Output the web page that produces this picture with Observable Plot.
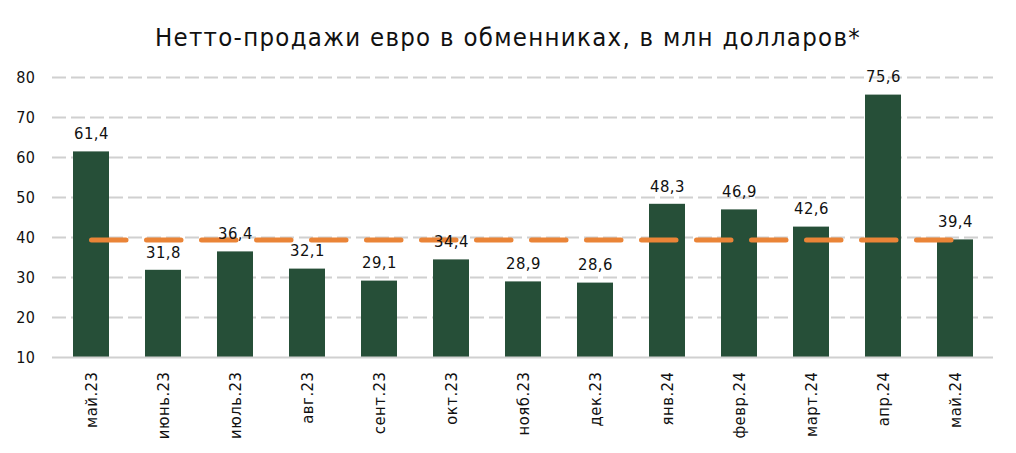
<!DOCTYPE html>
<html><head><meta charset="utf-8">
<script src="https://cdn.jsdelivr.net/npm/d3@7"></script>
<script src="https://cdn.jsdelivr.net/npm/@observablehq/plot@0.6"></script>
<style>
body{margin:0;background:#fff;}
#title{box-sizing:border-box;height:62px;padding-top:22px;line-height:30px;text-align:center;font-family:"DejaVu Sans Condensed","DejaVu Sans",sans-serif;font-size:25.5px;letter-spacing:1.3px;color:#111;}
</style></head><body>
<div id="title">Нетто-продажи евро в обменниках, в млн долларов*</div>
<div id="chart"></div>
<script>
const months = ["май.23","июнь.23","июль.23","авг.23","сент.23","окт.23","нояб.23","дек.23","янв.24","февр.24","март.24","апр.24","май.24"];
const values = [61.4,31.8,36.4,32.1,29.1,34.4,28.9,28.6,48.3,46.9,42.6,75.6,39.4];
const referenceLevel = 39.4;
const yTicks = [10,20,30,40,50,60,70,80];

const data = months.map((m,i)=>({month:m, value:values[i]}));
const refLine = months.map(m=>({month:m, value:referenceLevel}));
const fmt = v => v.toFixed(1).replace(".", ",");
const font = "'DejaVu Sans Condensed','DejaVu Sans',sans-serif";

const chart = Plot.plot({
  width: 1016,
  height: 391,
  marginTop: 15,
  marginBottom: 96,
  marginLeft: 52,
  marginRight: 23,
  style: {fontFamily: font, fontSize: "16px", color: "#111", background: "#fff", letterSpacing: "0.5px"},
  x: {domain: months, paddingInner: 0.5, paddingOuter: 0.25, label: null},
  y: {domain: [10, 80], label: null},
  marks: [
    Plot.gridY(yTicks.filter(t=>t>10), {stroke:"#d0d0d0", strokeOpacity:1, strokeWidth:2, strokeDasharray:"14,5"}),
    Plot.barY(data, {x:"month", y1: yTicks[0], y2:"value", fill:"#264f38"}),
    Plot.ruleY([yTicks[0]], {stroke:"#d0d0d0", strokeWidth:2}),
    Plot.lineY(refLine, {x:"month", y:"value", stroke:"#ea8437", strokeWidth:5, strokeLinecap:"round", strokeDasharray:"34.5,20.5"}),
    Plot.text(data, {x:"month", y:"value", text: d=>fmt(d.value), dy:-18, fontSize:16.5, fill:"#111"}),
    Plot.axisY({ticks: yTicks, tickSize:0, tickPadding:17, fontSize:16, fill:"#111"}),
    Plot.axisX({tickSize:0, tickRotate:-90, tickPadding:14, fontSize:16.5, fill:"#111"})
  ]
});
document.getElementById("chart").appendChild(chart);
</script>
</body></html>
